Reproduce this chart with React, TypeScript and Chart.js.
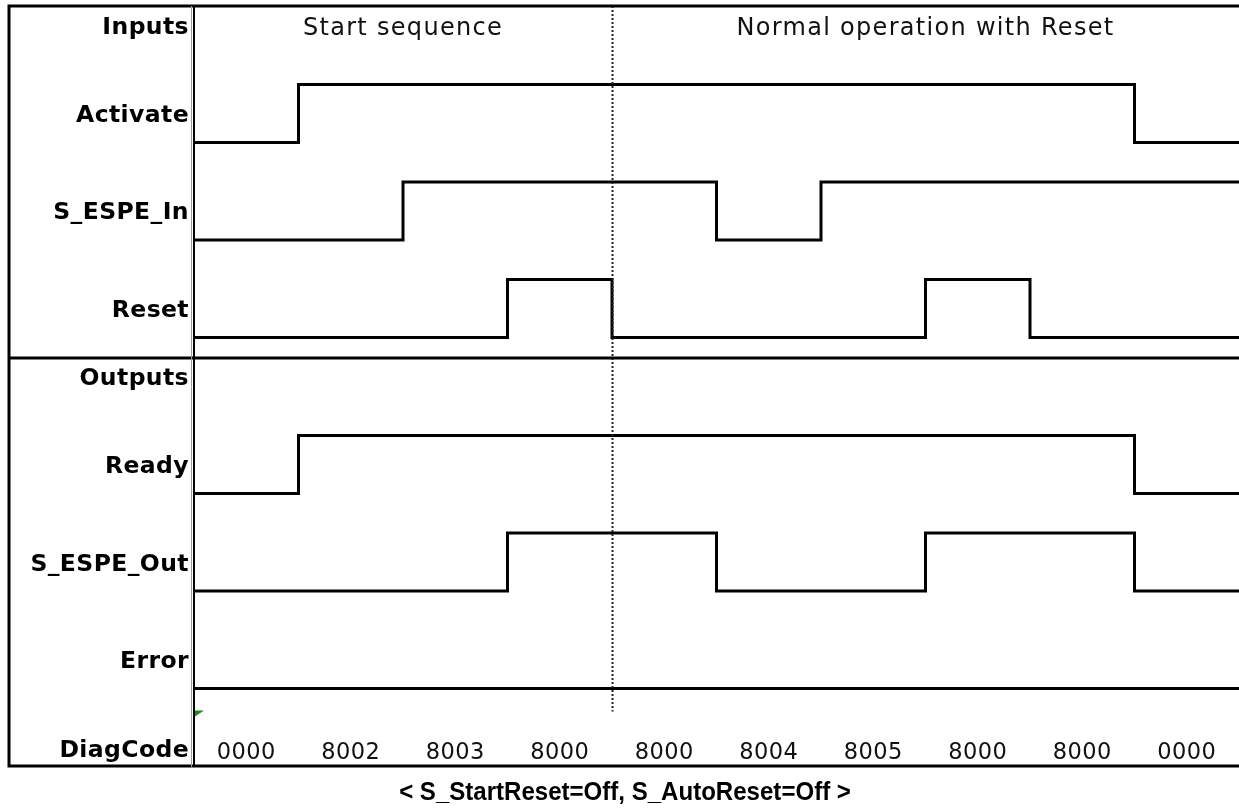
import React, { useEffect, useRef } from "react";
import { Chart, registerables } from "chart.js";

Chart.register(...registerables);

// ---- data ----
const TIME_SLOTS = 10;
const groupLabels = ["Inputs", "Outputs"];
const sectionTitles = ["Start sequence", "Normal operation with Reset"];
const sectionStarts = [0, 4];
const sectionEnds = [4, 10];
const signalNames = ["Activate", "S_ESPE_In", "Reset", "Ready", "S_ESPE_Out", "Error"];
const activate = [0, 1, 1, 1, 1, 1, 1, 1, 1, 0];
const sEspeIn = [0, 0, 1, 1, 1, 0, 1, 1, 1, 1];
const reset = [0, 0, 0, 1, 0, 0, 0, 1, 0, 0];
const ready = [0, 1, 1, 1, 1, 1, 1, 1, 1, 0];
const sEspeOut = [0, 0, 0, 1, 1, 0, 0, 1, 1, 0];
const error = [0, 0, 0, 0, 0, 0, 0, 0, 0, 0];
const diagCodeLabel = "DiagCode";
const diagCodes = ["0000", "8002", "8003", "8000", "8000", "8004", "8005", "8000", "8000", "0000"];
const caption = "< S_StartReset=Off, S_AutoReset=Off >";
const phaseMarkerTime = 4;

// ---- layout (lane rows in y-scale units) ----
const laneBase = [1.4, 2.4, 3.4, 5.0, 6.0, 7.0];
const laneAmp = 0.595;
const groupRow = [0.2, 3.8];
const groupDividerRow = 3.6;
const diagRow = 7.62;
const Y_MAX = 7.805;

const signals = [activate, sEspeIn, reset, ready, sEspeOut, error];

function toSteps(values: number[], base: number) {
  const pts = values.map((v, i) => ({ x: i, y: base - v * laneAmp }));
  pts.push({ x: TIME_SLOTS, y: base - values[values.length - 1] * laneAmp });
  return pts;
}

const timingPlugin = {
  id: "timingDecor",
  afterDatasetsDraw(chart: any) {
    const { ctx, chartArea, scales } = chart;
    const xs = scales.x;
    const ys = scales.y;
    const L = 9;
    const R = chart.width;
    ctx.save();

    // dotted phase marker
    ctx.beginPath();
    ctx.setLineDash([2, 2]);
    ctx.lineWidth = 2;
    ctx.strokeStyle = "#222";
    const mx = Math.round(xs.getPixelForValue(phaseMarkerTime)) + 0.5;
    ctx.moveTo(mx, chartArea.top);
    ctx.lineTo(mx, ys.getPixelForValue(laneBase[5]) + 23);
    ctx.stroke();
    ctx.setLineDash([]);

    // frame lines
    ctx.strokeStyle = "#000";
    ctx.lineWidth = 3;
    ctx.beginPath();
    ctx.moveTo(L - 1.5, chartArea.top);
    ctx.lineTo(R, chartArea.top);
    ctx.moveTo(L, chartArea.top);
    ctx.lineTo(L, chartArea.bottom);
    ctx.moveTo(L - 1.5, chartArea.bottom - 1);
    ctx.lineTo(R, chartArea.bottom - 1);
    const dy = ys.getPixelForValue(groupDividerRow) + 1;
    ctx.moveTo(L, dy);
    ctx.lineTo(R, dy);
    ctx.stroke();

    ctx.lineWidth = 2;
    ctx.beginPath();
    ctx.moveTo(chartArea.left, chartArea.top);
    ctx.lineTo(chartArea.left, chartArea.bottom);
    ctx.stroke();
    ctx.lineWidth = 1;
    ctx.strokeStyle = "#999";
    ctx.beginPath();
    ctx.moveTo(chartArea.left - 2.5, chartArea.top);
    ctx.lineTo(chartArea.left - 2.5, chartArea.bottom);
    ctx.stroke();

    // green marker
    ctx.fillStyle = "#1f8a1f";
    const gy = ys.getPixelForValue(laneBase[5]) + 22;
    ctx.beginPath();
    ctx.moveTo(chartArea.left + 1, gy);
    ctx.lineTo(chartArea.left + 10, gy);
    ctx.lineTo(chartArea.left + 1, gy + 6);
    ctx.closePath();
    ctx.fill();

    // row labels
    const labelX = chartArea.left - 5;
    ctx.fillStyle = "#000";
    ctx.font = 'bold 23.5px "DejaVu Sans"';
    ctx.textAlign = "right";
    ctx.textBaseline = "alphabetic";
    (ctx as any).letterSpacing = "0.4px";
    groupLabels.forEach((g, i) => {
      ctx.fillText(g, labelX, ys.getPixelForValue(groupRow[i]) + 8.5);
    });
    signalNames.forEach((n, i) => {
      ctx.fillText(n, labelX, ys.getPixelForValue(laneBase[i] - laneAmp / 2) + 8.5);
    });
    ctx.fillText(diagCodeLabel, labelX, ys.getPixelForValue(diagRow) + 8.5);

    // section titles
    ctx.textAlign = "center";
    ctx.font = '24px "DejaVu Sans"';
    (ctx as any).letterSpacing = "1.3px";
    ctx.fillStyle = "#111";
    sectionTitles.forEach((t, i) => {
      const cx = xs.getPixelForValue((sectionStarts[i] + sectionEnds[i]) / 2);
      ctx.fillText(t, cx, ys.getPixelForValue(groupRow[0]) + 9);
    });

    // diag codes
    ctx.font = '22.5px "DejaVu Sans"';
    (ctx as any).letterSpacing = "0.4px";
    diagCodes.forEach((c, i) => {
      ctx.fillText(c, xs.getPixelForValue(i + 0.5), ys.getPixelForValue(diagRow) + 10);
    });

    // caption
    (ctx as any).letterSpacing = "0px";
    ctx.fillStyle = "#000";
    ctx.font = 'bold 26px "Liberation Sans"';
    ctx.save();
    ctx.translate(625, chartArea.bottom + 33);
    ctx.scale(0.925, 1);
    ctx.textAlign = "center";
    ctx.fillText(caption, 0, 0);
    ctx.restore();

    ctx.restore();
  },
};

export default function App() {
  const ref = useRef<HTMLCanvasElement | null>(null);
  useEffect(() => {
    if (!ref.current) return;
    const chart = new Chart(ref.current, {
      type: "line",
      data: {
        datasets: signals.map((vals, i) => ({
          label: signalNames[i],
          data: toSteps(vals, laneBase[i]),
          borderColor: "#000",
          borderWidth: 3,
          stepped: true,
          pointRadius: 0,
          fill: false,
        })),
      },
      options: {
        animation: false,
        responsive: false,
        layout: { padding: { left: 194, top: 6, right: 0, bottom: 41 } },
        scales: {
          x: { type: "linear", min: 0, max: TIME_SLOTS, display: false },
          y: { type: "linear", min: 0, max: Y_MAX, reverse: true, display: false },
        },
        plugins: { legend: { display: false }, tooltip: { enabled: false } },
      },
      plugins: [timingPlugin],
    } as any);
    return () => chart.destroy();
  }, []);
  return (
    <div style={{ position: "absolute", left: 0, top: 0, width: 1239, height: 808, background: "#fff" }}>
      <canvas ref={ref} width={1239} height={808} style={{ display: "block", width: 1239, height: 808 }} />
    </div>
  );
}
